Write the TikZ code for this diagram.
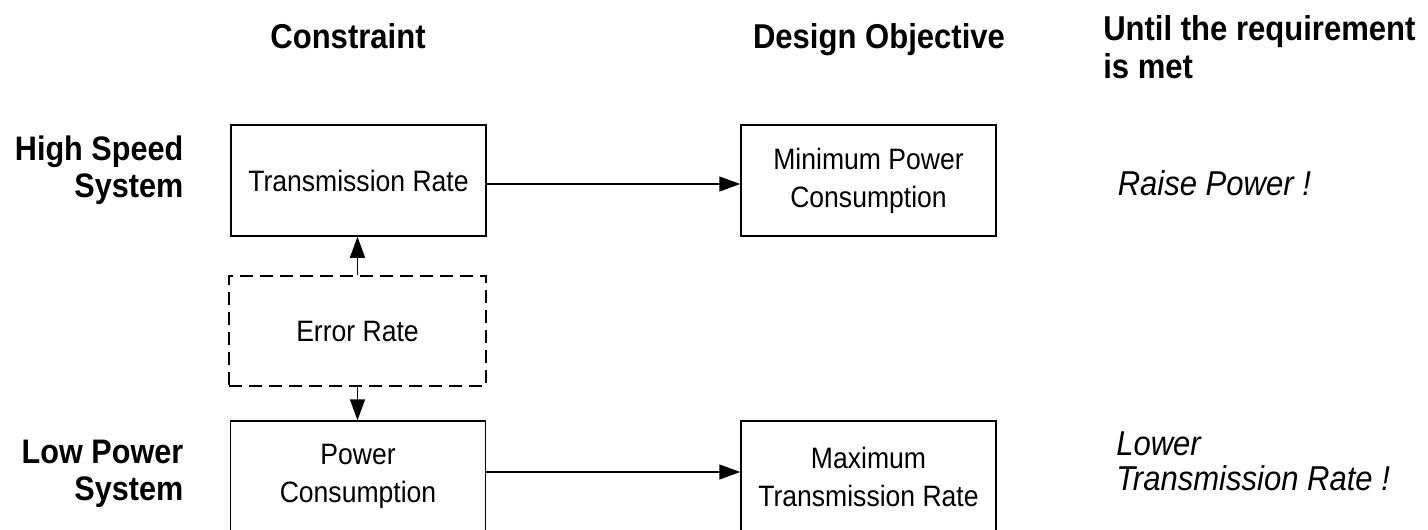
\documentclass[tikz,border=0pt]{standalone}
\usepackage{fontspec}
\setmainfont{Liberation Sans}[FakeStretch=0.9]
\usetikzlibrary{arrows.meta}

\begin{document}
\begin{tikzpicture}[x=1pt,y=-1pt,
    line width=1.5pt,
    blockbox/.style={draw, minimum width=255pt, minimum height=111pt,
      inner sep=0pt, align=center, font=\fontsize{29.5}{38}\selectfont},
    dashbox/.style={blockbox, minimum width=257pt, minimum height=110pt,
      dash pattern=on 13pt off 7pt},
    headtext/.style={inner sep=0pt, font=\fontsize{34.5}{39}\bfseries},
    sidetext/.style={inner sep=0pt, font=\fontsize{34}{37}\bfseries},
    actiontext/.style={inner sep=0pt, font=\fontsize{34.5}{35}\itshape},
    flow/.style={-{Triangle[length=21pt,width=15pt]}}]

  \useasboundingbox (0,0) rectangle (1428,530);

  % column headings
  \node[headtext, anchor=base] (hcon) at (348,48) {Constraint};
  \node[headtext, anchor=base] (hobj) at (879,48) {Design Objective};
  \node[headtext, anchor=base west] (huntil) at (1102.5,40)
    {\begin{tabular}[t]{@{}l@{}}Until the requirement\\is met\end{tabular}};

  % row labels
  \node[sidetext, anchor=base east] (rhigh) at (184,160.5)
    {\begin{tabular}[t]{@{}r@{}}High Speed\\System\end{tabular}};
  \node[sidetext, anchor=base east] (rlow) at (184,463)
    {\begin{tabular}[t]{@{}r@{}}Low Power\\System\end{tabular}};

  % constraint and objective blocks
  \node[blockbox] (trate) at (358.5,180.5) {Transmission Rate};
  \node[blockbox] (minpow) at (868.5,180.5) {Minimum Power\\Consumption};
  \node[dashbox] (err) at (357.5,331) {Error Rate};
  \node[blockbox] (pcons) at (358,476.5) {Power\\Consumption};
  \node[blockbox] (maxrate) at (868.5,476.5) {Maximum\\Transmission Rate};

  % actions
  \node[actiontext, anchor=base west] (araise) at (1117,195) {Raise Power !};
  \node[actiontext, anchor=base west] (alower) at (1115.5,455)
    {\begin{tabular}[t]{@{}l@{}}Lower\\Transmission Rate !\end{tabular}};

  % connectors
  \draw[flow] ([yshift=-3.5pt]trate.east) -- ([yshift=-3.5pt]minpow.west);
  \draw[flow] ([yshift=4.5pt]pcons.east) -- ([yshift=4.5pt]maxrate.west);
  \draw[flow] (err.north) -- (err.north |- trate.south);
  \draw[flow] (err.south) -- (err.south |- pcons.north);
\end{tikzpicture}
\end{document}
